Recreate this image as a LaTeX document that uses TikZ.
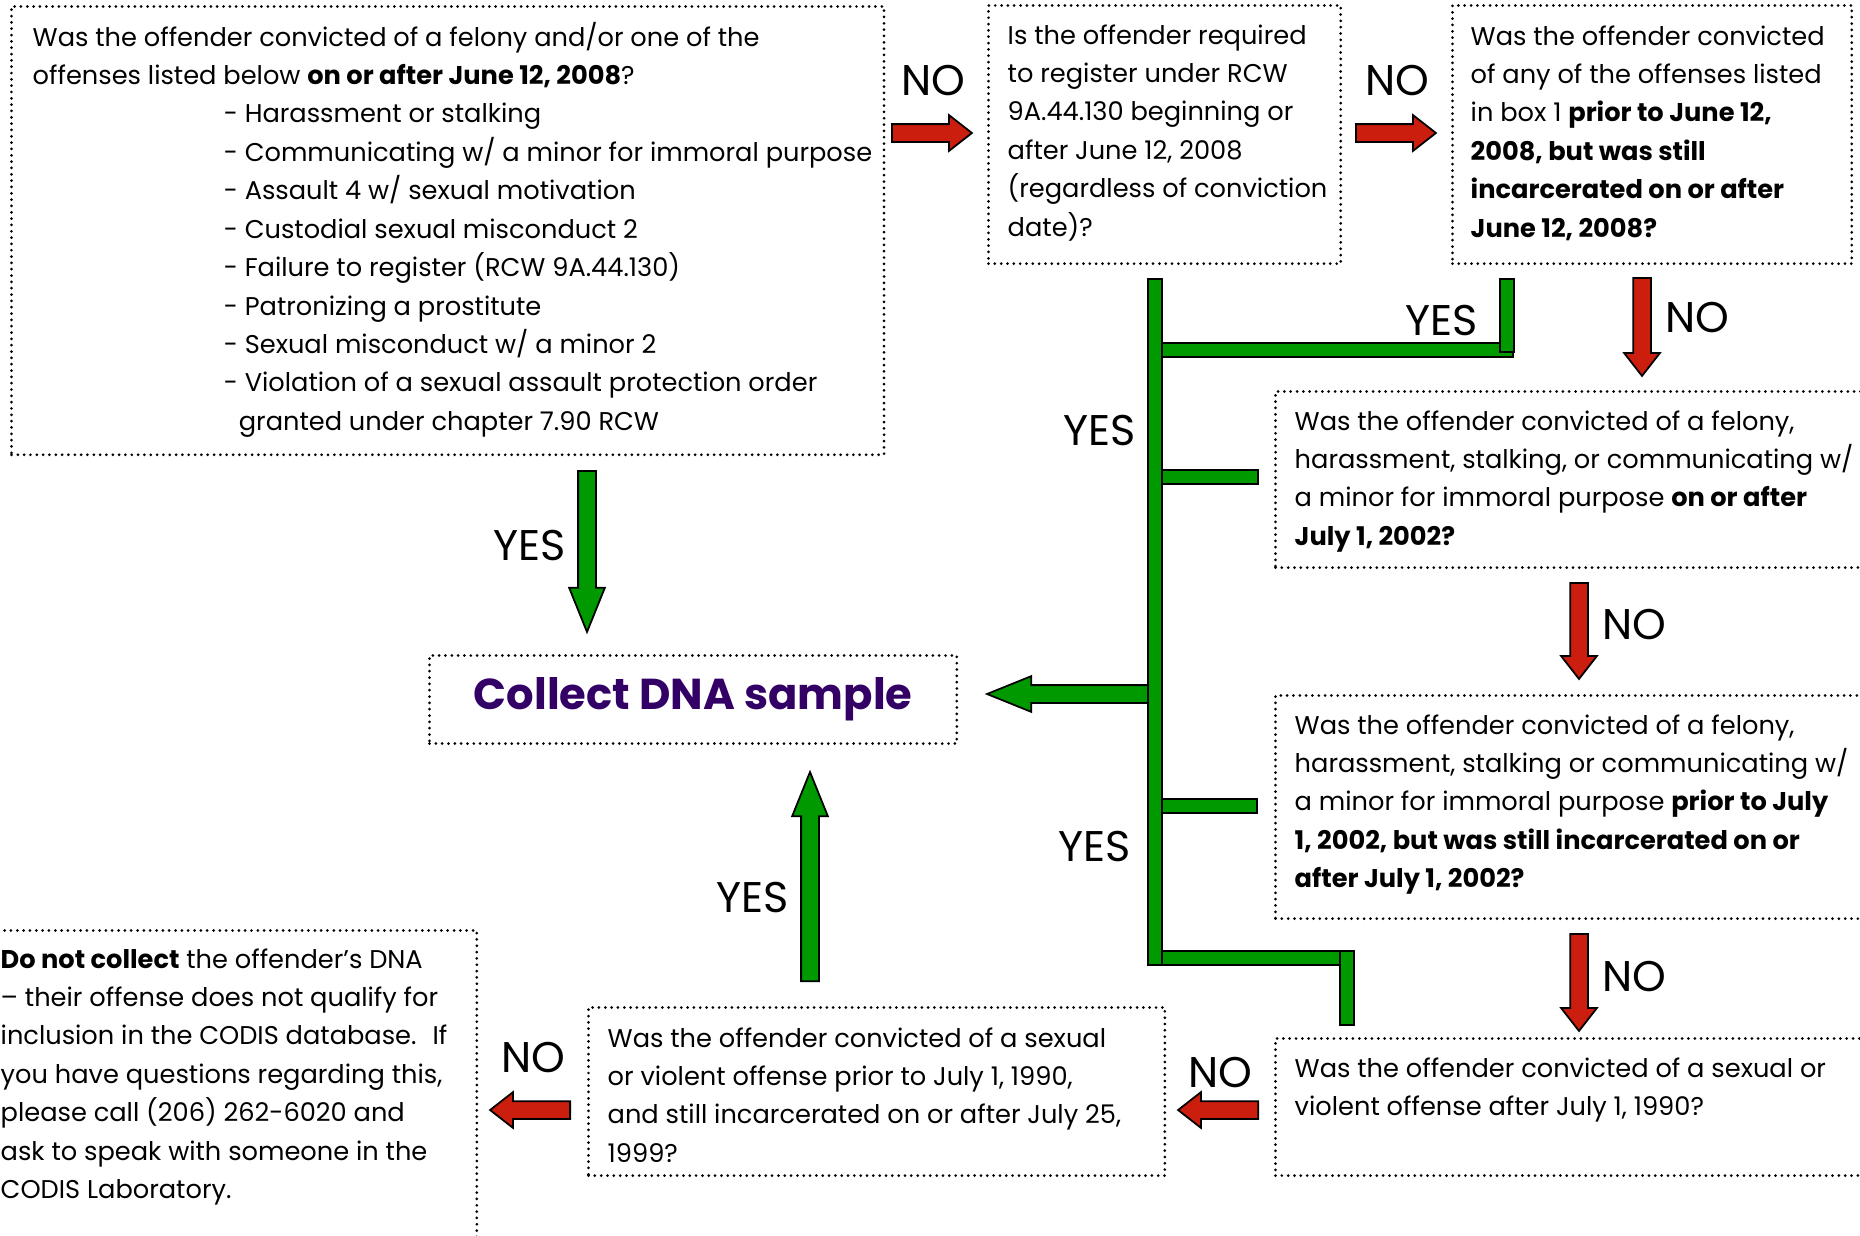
\documentclass[tikz,border=0pt]{standalone}
\usepackage{fontspec}
\setmainfont{Poppins}
\usetikzlibrary{shapes.arrows}
\definecolor{nored}{RGB}{204,30,14}
\definecolor{yesgreen}{RGB}{0,153,0}
\definecolor{dnapurple}{RGB}{51,0,102}
\newcommand{\qfont}{\fontsize{7.3}{10.93}\selectfont}
\newcommand{\lblfont}{\fontsize{12.2}{14}\selectfont}
\newcommand{\dnafont}{\fontsize{12.3}{14}\selectfont\bfseries}
% lines of a box, baseline on the first line
\newcommand{\qlines}[1]{\begin{tabular}[t]{@{}l@{}}#1\end{tabular}}

\begin{document}
\begin{tikzpicture}[x=0.01cm,y=-0.01cm,
    qbox/.style={draw,line width=0.85pt,line cap=round,dash pattern=on 0pt off 1.8pt,inner sep=0pt,anchor=north west},
    qtext/.style={anchor=base west,inner sep=0pt,font=\qfont},
    lbl/.style={inner sep=0pt,font=\lblfont},
    blockarrow/.style={single arrow,draw=black,line width=0.5pt,inner sep=0.08cm,single arrow head extend=0.09cm,anchor=tail},
    noarrow/.style={blockarrow,fill=nored,single arrow tip angle=76},
    yesarrow/.style={blockarrow,fill=yesgreen,single arrow tip angle=44},
    greenbar/.style={draw=black,line width=0.5pt,double=yesgreen,double distance=0.125cm,line cap=rect}]
  \useasboundingbox (0,0) rectangle (1860,1236);
  \clip (0,0) rectangle (1860,1236);

  % boxes
  \node[qbox,minimum width=8.72cm,minimum height=4.48cm] (q1) at (10,5) {};
  \node[qbox,minimum width=3.52cm,minimum height=2.58cm] (q2) at (987,4) {};
  \node[qbox,minimum width=3.99cm,minimum height=2.58cm] (q3) at (1451,4) {};
  \node[qbox,minimum width=6.06cm,minimum height=1.76cm] (q4) at (1274,390) {};
  \node[qbox,minimum width=6.06cm,minimum height=2.23cm] (q5) at (1274,694) {};
  \node[qbox,minimum width=6.06cm,minimum height=1.37cm] (q6) at (1274,1037) {};
  \node[qbox,minimum width=5.76cm,minimum height=1.68cm] (q7) at (587,1006) {};
  \node[qbox,minimum width=4.95cm,minimum height=3.30cm] (nocollect) at (-20,929) {};
  \node[qbox,minimum width=5.27cm,minimum height=0.88cm,font=\dnafont,text=dnapurple] (collect) at (428,654) {Collect DNA sample};

  \node[qtext] (q1t) at ([shift={(22,41)}]q1.north west) {\qlines{Was the offender convicted of a felony and/or one of the\\
    offenses listed below \textbf{on or after June 12, 2008}?\\
    \hspace*{1.91cm}- Harassment or stalking\\
    \hspace*{1.91cm}- Communicating w/ a minor for immoral purpose\\
    \hspace*{1.91cm}- Assault 4 w/ sexual motivation\\
    \hspace*{1.91cm}- Custodial sexual misconduct 2\\
    \hspace*{1.91cm}- Failure to register (RCW 9A.44.130)\\
    \hspace*{1.91cm}- Patronizing a prostitute\\
    \hspace*{1.91cm}- Sexual misconduct w/ a minor 2\\
    \hspace*{1.91cm}- Violation of a sexual assault protection order\\
    \hspace*{2.06cm}granted under chapter 7.90 RCW}};
  \node[qtext] (q2t) at ([shift={(20,40)}]q2.north west) {\qlines{Is the offender required\\
    to register under RCW\\ 9A.44.130 beginning or\\ after June 12, 2008\\
    (regardless of conviction\\ date)?}};
  \node[qtext] (q3t) at ([shift={(19,41)}]q3.north west) {\qlines{Was the offender convicted\\
    of any of the offenses listed\\ in box 1 \textbf{prior to June 12,}\\
    \textbf{2008, but was still}\\ \textbf{incarcerated on or after}\\ \textbf{June 12, 2008?}}};
  \node[qtext] (q4t) at ([shift={(20,40)}]q4.north west) {\qlines{Was the offender convicted of a felony,\\
    harassment, stalking, or communicating w/\\
    a minor for immoral purpose \textbf{on or after}\\ \textbf{July 1, 2002?}}};
  \node[qtext] (q5t) at ([shift={(20,40)}]q5.north west) {\qlines{Was the offender convicted of a felony,\\
    harassment, stalking or communicating w/\\
    a minor for immoral purpose \textbf{prior to July}\\
    \textbf{1, 2002, but was still incarcerated on or}\\ \textbf{after July 1, 2002?}}};
  \node[qtext] (q6t) at ([shift={(20,40)}]q6.north west) {\qlines{Was the offender convicted of a sexual or\\
    violent offense after July 1, 1990?}};
  \node[qtext] (q7t) at ([shift={(20,41)}]q7.north west) {\qlines{Was the offender convicted of a sexual\\
    or violent offense prior to July 1, 1990,\\
    and still incarcerated on or after July 25,\\ 1999?}};
  \node[qtext] (nocollectt) at ([shift={(20,39)}]nocollect.north west) {\qlines{\textbf{Do not collect} the offender’s DNA\\
    – their offense does not qualify for\\ inclusion in the CODIS database.~ If\\
    you have questions regarding this,\\ please call (206) 262-6020 and\\
    ask to speak with someone in the\\ CODIS Laboratory.}};

  % NO arrows
  \node[noarrow,minimum height=0.8cm] (r1) at (891,133) {};
  \node[noarrow,minimum height=0.8cm] (r2) at (1355,133) {};
  \node[noarrow,minimum height=0.98cm,shape border rotate=270] (r3) at (1642,277) {};
  \node[noarrow,minimum height=0.96cm,shape border rotate=270] (r4) at (1579,582) {};
  \node[noarrow,minimum height=0.97cm,shape border rotate=270] (r5) at (1579,933) {};
  \node[noarrow,minimum height=0.8cm,shape border rotate=180] (r6) at (1259,1110) {};
  \node[noarrow,minimum height=0.8cm,shape border rotate=180] (r7) at (571,1110) {};

  % YES arrows and bars
  \node[yesarrow,minimum height=1.61cm,shape border rotate=270] (g1) at (587,470) {};
  \node[yesarrow,minimum height=2.09cm,shape border rotate=90] (g2) at (810,982) {};
  \node[yesarrow,minimum height=1.62cm,shape border rotate=180] (g3) at (1150,694) {};
  \coordinate (ttop) at (1155,286);
  \coordinate (tbot) at (1155,958);
  \coordinate (s3) at (1507,286);
  \coordinate (s6) at (1347,1018);
  \draw[greenbar] (ttop |- 0,350) -- (1506,350);
  \draw[greenbar] (s3) -- (1507,345);
  \draw[greenbar] (ttop |- 0,477) -- (1251,477);
  \draw[greenbar] (ttop |- 0,806) -- (1250,806);
  \draw[greenbar] (tbot) -- (s6 |- tbot);
  \draw[greenbar] (s6 |- tbot) -- (s6);
  \draw[greenbar] (ttop) -- (tbot);

  % labels
  \node[lbl] (no1) at (933,81) {NO};
  \node[lbl] (no2) at (1397,81) {NO};
  \node[lbl] (no3) at (1697,318) {NO};
  \node[lbl] (no4) at (1634,625) {NO};
  \node[lbl] (no5) at (1634,977) {NO};
  \node[lbl] (no6) at (1220,1073) {NO};
  \node[lbl] (no7) at (533,1058) {NO};
  \node[lbl] (yes1) at (1442,320) {YES};
  \node[lbl] (yes2) at (1100,430) {YES};
  \node[lbl] (yes3) at (1095,846) {YES};
  \node[lbl] (yes4) at (530,545) {YES};
  \node[lbl] (yes5) at (753,897) {YES};
\end{tikzpicture}
\end{document}
